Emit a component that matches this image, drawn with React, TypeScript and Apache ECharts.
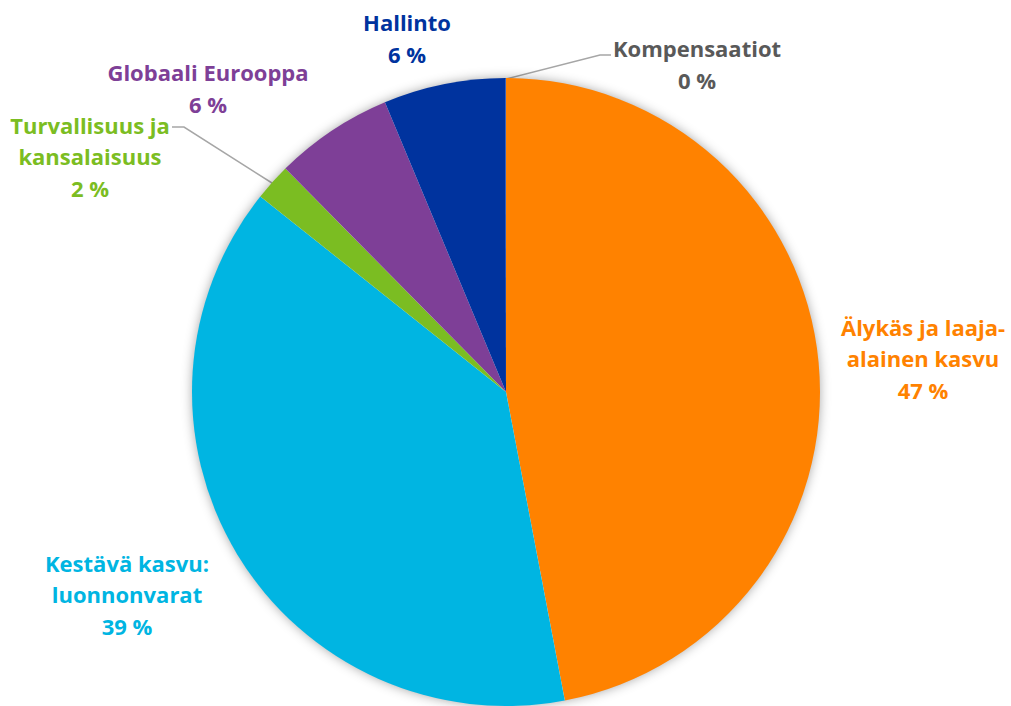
import React, { useEffect, useRef } from "react";
import * as echarts from "echarts";

const categories = [
  "Älykäs ja laaja-\nalainen kasvu",
  "Kestävä kasvu:\nluonnonvarat",
  "Turvallisuus ja\nkansalaisuus",
  "Globaali Eurooppa",
  "Hallinto",
  "Kompensaatiot",
];
const values = [47.0, 38.7, 1.9, 6.1, 6.27, 0.03];
const colors = ["#FF8200", "#00B5E2", "#7BBD22", "#7E3F97", "#00339E", "#00339E"];
const labelColors = ["#FF8200", "#00B5E2", "#7BBD22", "#7E3F97", "#00339E", "#595959"];
const showLines = [false, false, true, false, false, true];

const labelPos: { x: number; y: number; line?: number[][] }[] = [
  { x: 923, y: 358 },
  { x: 127, y: 594 },
  { x: 90, y: 156, line: [[272, 183], [184, 127], [172, 127]] },
  { x: 208, y: 88 },
  { x: 407, y: 38 },
  { x: 697, y: 64, line: [[506, 79], [600, 55], [611, 55]] },
];

export default function App() {
  const ref = useRef<HTMLDivElement>(null);
  useEffect(() => {
    if (!ref.current) return;
    const chart = echarts.init(ref.current, null, { renderer: "svg" });
    chart.setOption({
      animation: false,
      backgroundColor: "#ffffff",
      series: [
        {
          type: "pie",
          silent: true,
          center: [506, 392],
          radius: 313,
          label: { show: false },
          labelLine: { show: false },
          itemStyle: {
            color: "#ffffff",
            shadowBlur: 12,
            shadowColor: "rgba(0,0,0,0.4)",
          },
          data: [{ name: "", value: 1 }],
        },
        {
          type: "pie",
          center: [506, 392],
          radius: 314,
          startAngle: 90,
          clockwise: true,
          percentPrecision: 0,
          avoidLabelOverlap: false,
          label: {
            show: true,
            formatter: "{b}\n{d} %",
            fontFamily: "'Open Sans', sans-serif",
            fontWeight: "bold",
            fontSize: 22,
            lineHeight: 31.5,
            align: "center",
          },
          labelLine: {
            show: true,
            lineStyle: { color: "#A6A6A6", width: 1.5 },
          },
          labelLayout: (params: any) => {
            const p = labelPos[params.dataIndex];
            const out: any = {
              x: p.x,
              y: p.y,
              align: "center",
              verticalAlign: "middle",
            };
            if (p.line) out.labelLinePoints = p.line;
            return out;
          },
          data: categories.map((name, i) => ({
            name,
            value: values[i],
            itemStyle: { color: colors[i] },
            label: { color: labelColors[i] },
            labelLine: { show: showLines[i] },
          })),
        },
      ],
    });
    return () => chart.dispose();
  }, []);
  return (
    <div
      ref={ref}
      style={{ position: "absolute", left: 0, top: 0, width: 1011, height: 706 }}
    />
  );
}
